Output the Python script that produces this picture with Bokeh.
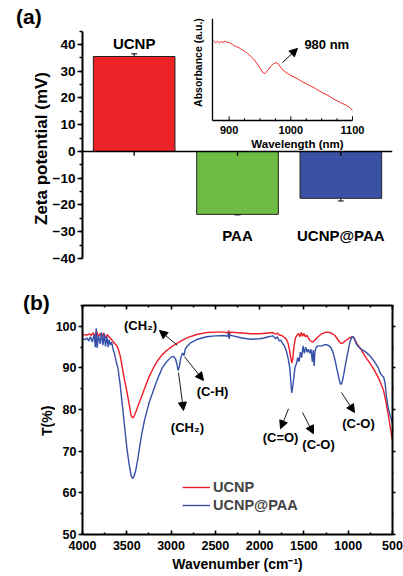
import math
from bokeh.plotting import figure
from bokeh.layouts import column
from bokeh.models import (Range1d, LinearAxis, Span, Whisker, ColumnDataSource, Div,
                          Label, Arrow, NormalHead, TeeHead, Legend, LegendItem,
                          SingleIntervalTicker)
from bokeh.core.properties import value
from bokeh.embed import file_html
from bokeh.resources import INLINE

FONT = "Liberation Sans"

# ---------------- data: panel (a) ----------------
samples = ["UCNP", "PAA", "UCNP@PAA"]
zeta = [35.5, -23.5, -17.5]
zeta_err = [1.0, 0.2, 1.0]
bar_colors = ["#EC2227", "#6DBD45", "#3A52A3"]

# inset absorbance spectrum (arbitrary units)
inset_nm = [875, 878, 881, 884, 887, 890, 893, 896, 900, 905, 910, 915, 920, 925, 930, 935,
            940, 945, 950, 955, 958, 962, 967, 972, 976, 980, 985, 990, 1000, 1010, 1020,
            1030, 1040, 1050, 1060, 1070, 1080, 1090, 1095, 1100]
inset_abs = [0.762, 0.740, 0.755, 0.738, 0.752, 0.743, 0.756, 0.745, 0.743, 0.726, 0.706,
             0.697, 0.676, 0.660, 0.638, 0.612, 0.583, 0.545, 0.497, 0.455, 0.446, 0.474,
             0.512, 0.541, 0.552, 0.535, 0.497, 0.467, 0.429, 0.400, 0.364, 0.335, 0.305,
             0.268, 0.240, 0.202, 0.172, 0.145, 0.125, 0.095]
inset_major = [900, 1000, 1100]
inset_minor = [925, 950, 975, 1025, 1050, 1075]
inset_labels = ["900", "1000", "1100"]

# ---------------- data: panel (b) ----------------
ucnp_wn = [4000, 3950, 3920, 3900, 3880, 3860, 3840, 3820, 3800, 3780, 3760, 3740, 3720, 3700,
           3680, 3660, 3640, 3620, 3600, 3575, 3550, 3525, 3500, 3475, 3450, 3435, 3420, 3400,
           3375, 3350, 3300, 3250, 3200, 3150, 3100, 3050, 3000, 2950, 2900, 2850, 2800, 2700,
           2600, 2500, 2400, 2360, 2350, 2340, 2330, 2200, 2100, 2000, 1900, 1850, 1820, 1800,
           1780, 1750, 1720, 1700, 1680, 1660, 1645, 1635, 1625, 1610, 1595, 1580, 1560, 1545,
           1530, 1515, 1500, 1485, 1470, 1450, 1430, 1410, 1395, 1380, 1350, 1300, 1250, 1200,
           1150, 1120, 1100, 1080, 1060, 1030, 1000, 970, 950, 930, 900, 850, 800, 750, 700,
           650, 600, 575, 550, 525, 500]
ucnp_t = [98.0, 97.9, 98.2, 97.8, 98.5, 97.6, 98.8, 97.5, 98.3, 97.4, 98.4, 97.2, 98.0, 97.5,
          97.0, 96.5, 96.0, 95.5, 94.8, 93.0, 90.0, 87.0, 84.5, 81.5, 78.5, 78.0, 78.3, 79.3,
          80.8, 82.2, 85.0, 87.8, 90.0, 91.8, 93.2, 94.2, 95.0, 95.7, 96.3, 96.9, 97.4, 98.1,
          98.5, 98.6, 98.6, 98.4, 99.0, 98.0, 98.6, 98.4, 98.2, 98.2, 98.4, 98.5, 98.1, 98.4,
          97.9, 97.8, 97.3, 97.0, 96.0, 94.0, 92.0, 91.2, 92.5, 95.5, 97.3, 97.8, 98.3, 97.5,
          98.5, 97.6, 98.3, 97.5, 97.9, 97.2, 96.6, 96.3, 96.3, 96.6, 97.3, 98.2, 98.6, 98.5,
          97.8, 96.9, 96.3, 95.9, 96.0, 96.6, 97.0, 97.4, 97.5, 97.0, 95.8, 94.3, 92.5, 91.0,
          89.3, 87.2, 84.5, 82.0, 79.0, 75.8, 72.5]

paa_wn = [4000, 3970, 3950, 3930, 3910, 3890, 3870, 3855, 3845, 3835, 3820, 3800, 3785, 3770,
          3755, 3740, 3725, 3710, 3700, 3685, 3670, 3655, 3640, 3620, 3600, 3575, 3550, 3525,
          3500, 3475, 3450, 3435, 3420, 3400, 3375, 3350, 3325, 3300, 3250, 3200, 3150, 3100,
          3050, 3000, 2975, 2950, 2935, 2920, 2905, 2890, 2870, 2855, 2840, 2820, 2780, 2700,
          2600, 2500, 2400, 2360, 2350, 2345, 2335, 2300, 2200, 2100, 2000, 1950, 1900, 1850,
          1820, 1800, 1780, 1760, 1740, 1720, 1700, 1680, 1660, 1645, 1638, 1630, 1620, 1610,
          1600, 1585, 1570, 1555, 1540, 1525, 1510, 1495, 1480, 1465, 1450, 1435, 1420, 1405,
          1395, 1385, 1375, 1360, 1340, 1300, 1260, 1230, 1200, 1175, 1150, 1125, 1100, 1085,
          1070, 1050, 1025, 1000, 980, 960, 945, 930, 910, 880, 850, 800, 750, 700, 660, 640,
          620, 600, 585, 570, 550, 525, 500]
paa_t = [97.0, 96.8, 97.2, 96.5, 97.5, 96.2, 98.0, 95.0, 99.5, 94.8, 97.8, 95.8, 98.5, 95.5,
         98.2, 95.2, 97.6, 95.0, 96.8, 95.5, 96.2, 94.5, 93.5, 91.5, 90.0, 86.0, 81.0, 76.0,
         71.0, 67.0, 64.0, 63.5, 63.8, 65.3, 68.2, 71.7, 74.8, 77.4, 81.5, 84.6, 87.5, 90.0,
         91.5, 92.6, 92.8, 92.2, 91.0, 89.4, 90.5, 92.5, 93.6, 93.0, 94.5, 95.2, 96.0, 96.9,
         97.5, 97.7, 97.8, 97.6, 98.6, 97.0, 97.9, 97.7, 97.2, 96.9, 97.0, 97.2, 97.5, 97.7,
         97.0, 97.5, 96.5, 96.7, 95.8, 95.3, 94.2, 92.5, 90.0, 86.0, 84.0, 85.0, 86.5, 88.5,
         90.2, 91.0, 92.5, 91.5, 93.8, 92.5, 95.3, 93.5, 95.0, 93.8, 94.5, 93.5, 94.5, 91.5,
         94.3, 90.5, 94.0, 95.0, 95.3, 95.3, 95.6, 95.5, 95.0, 94.0, 92.0, 89.5, 87.0, 86.0,
         86.5, 88.5, 91.5, 94.2, 96.3, 97.4, 97.6, 97.0, 95.8, 95.0, 94.5, 93.8, 92.8, 91.4,
         90.0, 88.8, 88.2, 87.8, 86.5, 83.5, 80.5, 78.5, 76.6]

ann_text = ["(CH\u2082)", "(C-H)", "(CH\u2082)", "(C=O)", "(C-O)", "(C-O)"]
ann_x = [3345, 2532, 2815, 1764, 1335, 884]
ann_y = [100.2, 84.3, 75.7, 73.3, 71.5, 76.7]
arr_x0 = [2927, 2848, 2916, 1674, 1516, 1076]
arr_y0 = [95.4, 92.7, 88.9, 80.2, 79.3, 84.1]
arr_x1 = [3131, 2634, 2860, 1764, 1392, 929]
arr_y1 = [99.0, 87.0, 79.8, 75.4, 74.2, 79.3]

RED = "#EE1D25"
BLUE = "#3550A8"


def glyph_text(**kw):
    d = dict(text_font=value(FONT), text_font_style="bold", text_color="black")
    d.update(kw)
    return d


def label_text(**kw):
    d = dict(text_font=FONT, text_font_style="bold", text_color="black")
    d.update(kw)
    return d


def panel_tag(txt, top, left, h):
    html = ("<span style=\"font-family:'Liberation Sans';font-weight:bold;font-size:21px;"
            "line-height:%dpx;color:black\">%s</span>" % (h, txt))
    return Div(text=html, width=40, height=h, margin=(top, 0, -(top + h), left))


def vertical_title(txt, top, left, w, h, size):
    html = ("<div style=\"font-family:'Liberation Sans';font-weight:bold;font-size:%s;"
            "color:black;writing-mode:vertical-rl;transform:rotate(180deg);"
            "height:%dpx;width:%dpx;line-height:%dpx;text-align:center;"
            "white-space:nowrap\">%s</div>" % (size, h, w, w, txt))
    return Div(text=html, width=w, height=h, margin=(top, 0, -(top + h), left))


# ================= panel (a) =================
cat_x = [i + 0.5 for i in range(len(samples))]
HA = 283

pa = figure(width=403, height=HA, x_range=Range1d(0, len(samples)),
            y_range=Range1d(-40, 52.7), output_backend="svg", toolbar_location=None,
            min_border_left=82, min_border_right=11, min_border_top=10, min_border_bottom=25)
pa.outline_line_color = None
pa.xgrid.visible = False
pa.ygrid.visible = False
pa.xaxis.visible = False
pa.background_fill_color = None
pa.border_fill_color = None

ya = pa.yaxis[0]
ya.ticker = SingleIntervalTicker(interval=10, num_minor_ticks=2)
ya.bounds = (-40, 45)
ya.axis_line_width = 2
ya.major_tick_line_width = 1.5
ya.minor_tick_line_width = 1.5
ya.major_tick_out = 5
ya.major_tick_in = 0
ya.minor_tick_out = 3
ya.minor_tick_in = 0
ya.major_label_standoff = 2
ya.major_label_text_font = FONT
ya.major_label_text_font_style = "bold"
ya.major_label_text_font_size = "13.5px"
ya.major_label_text_color = "black"

pa.vbar(x=cat_x, top=zeta, bottom=0, width=0.79, fill_color=bar_colors,
        line_color="#222222", line_width=1)

err_src = ColumnDataSource(dict(x=cat_x,
                                upper=[z + e for z, e in zip(zeta, zeta_err)],
                                lower=[z - e for z, e in zip(zeta, zeta_err)]))
pa.add_layout(Whisker(source=err_src, base="x", upper="upper", lower="lower",
                      line_width=1, line_color="black",
                      upper_head=TeeHead(size=6, line_width=1, line_color="black"),
                      lower_head=TeeHead(size=6, line_width=1, line_color="black")))

pa.add_layout(Span(location=0, dimension="width", line_color="black", line_width=1.5))
pa.segment(x0=cat_x, y0=[0] * 3, x1=cat_x, y1=[-1.6] * 3, line_color="black", line_width=1.3)

label_y = [z + 5 if z > 0 else -31.4 for z in zeta]
pa.text(x=cat_x, y=label_y, text=samples, text_align="center", text_baseline="middle",
        text_font_size="15px", **glyph_text())

# inset
pa.extra_x_ranges = {"ix": Range1d(662.2, 1164.9)}
pa.extra_y_ranges = {"iy": Range1d(-1.314, 1.0476)}
ins = dict(x_range_name="ix", y_range_name="iy")
inset_x0, inset_x1, inset_ytop = 873, 1100, 0.97

pa.line(inset_nm, inset_abs, line_color="#EE2A2A", line_width=1, **ins)
pa.segment(x0=[inset_x0, inset_x0], y0=[0, 0], x1=[inset_x1, inset_x0], y1=[0, inset_ytop],
           line_color="black", line_width=1.3, **ins)
pa.segment(x0=inset_major, y0=[0] * 3, x1=inset_major, y1=[0.04] * 3,
           line_color="black", line_width=1, **ins)
pa.segment(x0=inset_minor, y0=[0] * 6, x1=inset_minor, y1=[0.022] * 6,
           line_color="black", line_width=1, **ins)
pa.text(x=inset_major, y=[-0.095] * 3, text=inset_labels, text_align="center",
        text_baseline="middle", text_font_size="11px", **glyph_text(), **ins)
pa.add_layout(Label(x=1010.8, y=-0.219, text="Wavelength (nm)", text_align="center",
                    text_baseline="middle", text_font_size="11.5px", **label_text(), **ins))
pa.add_layout(Label(x=848.7, y=0.552, text="Absorbance (a.u.)", angle=math.pi / 2,
                    text_align="center", text_baseline="middle", text_font_size="10.5px",
                    **label_text(), **ins))
pa.add_layout(Label(x=1022, y=0.724, text="980 nm", text_align="left",
                    text_baseline="middle", text_font_size="13px", **label_text(), **ins))
pa.add_layout(Arrow(x_start=986.5, y_start=0.552, x_end=1010.8, y_end=0.686, line_width=1,
                    end=NormalHead(size=8, fill_color="black", line_color="black"), **ins))

# ================= panel (b) =================
HB = 293
pb = figure(width=403, height=HB, x_range=Range1d(4000, 500), y_range=Range1d(50, 105),
            output_backend="svg", toolbar_location=None,
            min_border_left=82, min_border_right=11, min_border_top=22, min_border_bottom=42)
pb.outline_line_color = None
pb.xgrid.visible = False
pb.ygrid.visible = False
pb.background_fill_color = None
pb.border_fill_color = None


def style_axis(ax, tick_in, tick_out, labels=True, size="12.5px", standoff=2):
    ax.axis_line_width = 2
    ax.major_tick_line_width = 1.5
    ax.minor_tick_line_width = 1.5
    ax.major_tick_in = tick_in
    ax.major_tick_out = tick_out
    ax.minor_tick_in = tick_in // 2
    ax.minor_tick_out = tick_out // 2
    ax.major_label_standoff = standoff
    ax.major_label_text_font = FONT
    ax.major_label_text_font_style = "bold"
    if labels:
        ax.major_label_text_color = "black"
        ax.major_label_text_font_size = size
    else:
        ax.major_label_text_color = None
        ax.major_label_text_font_size = "1px"


def style_axis_label(ax, text, size, standoff):
    ax.axis_label = text
    ax.axis_label_standoff = standoff
    ax.axis_label_text_font = FONT
    ax.axis_label_text_font_style = "bold"
    ax.axis_label_text_font_size = size
    ax.axis_label_text_color = "black"


xb = pb.xaxis[0]
xb.ticker = SingleIntervalTicker(interval=500, num_minor_ticks=2)
style_axis(xb, 4, 0, standoff=6, size="12.5px")
style_axis_label(xb, "Wavenumber (cm\u207b\u00b9)", "14px", 3)

yb = pb.yaxis[0]
yb.ticker = SingleIntervalTicker(interval=10, num_minor_ticks=2)
style_axis(yb, 0, 4, size="12.5px")

top_ax = LinearAxis(ticker=SingleIntervalTicker(interval=500, num_minor_ticks=2))
style_axis(top_ax, 4, 0, labels=False, standoff=0)
pb.add_layout(top_ax, "above")
right_ax = LinearAxis(ticker=SingleIntervalTicker(interval=10, num_minor_ticks=2))
style_axis(right_ax, 0, 3, labels=False, standoff=0)
pb.add_layout(right_ax, "right")

r_ucnp = pb.line(ucnp_wn, ucnp_t, line_color=RED, line_width=1.4)
r_paa = pb.line(paa_wn, paa_t, line_color=BLUE, line_width=1.4)

legend = Legend(items=[LegendItem(label="UCNP", renderers=[r_ucnp]),
                       LegendItem(label="UCNP@PAA", renderers=[r_paa])],
                location=(100, 20), border_line_color=None, background_fill_alpha=0,
                glyph_width=28, glyph_height=18, label_height=18, padding=0, spacing=0,
                margin=0, label_standoff=3, label_text_font=FONT,
                label_text_font_style="bold", label_text_font_size="14.5px")
pb.add_layout(legend)

for t, x, y in zip(ann_text, ann_x, ann_y):
    pb.add_layout(Label(x=x, y=y, text=t, text_align="center", text_baseline="middle",
                        text_font_size="13px", **label_text()))
for x0, y0, x1, y1 in zip(arr_x0, arr_y0, arr_x1, arr_y1):
    pb.add_layout(Arrow(x_start=x0, y_start=y0, x_end=x1, y_end=y1, line_width=0.9,
                        end=NormalHead(size=8, fill_color="black", line_color="black")))

tag_a = panel_tag("(a)", 6, 16, 22)
zeta_title = vertical_title("Zeta potential (mV)", 66, 31, 22, 164, "17px")
tag_b = panel_tag("(b)", 9, 23, 22)
t_title = vertical_title("T(%)", 88, 37, 20, 100, "14px")

layout = column(tag_a, zeta_title, pa, tag_b, t_title, pb, spacing=0)
open("out.html", "w").write(file_html(layout, INLINE))
